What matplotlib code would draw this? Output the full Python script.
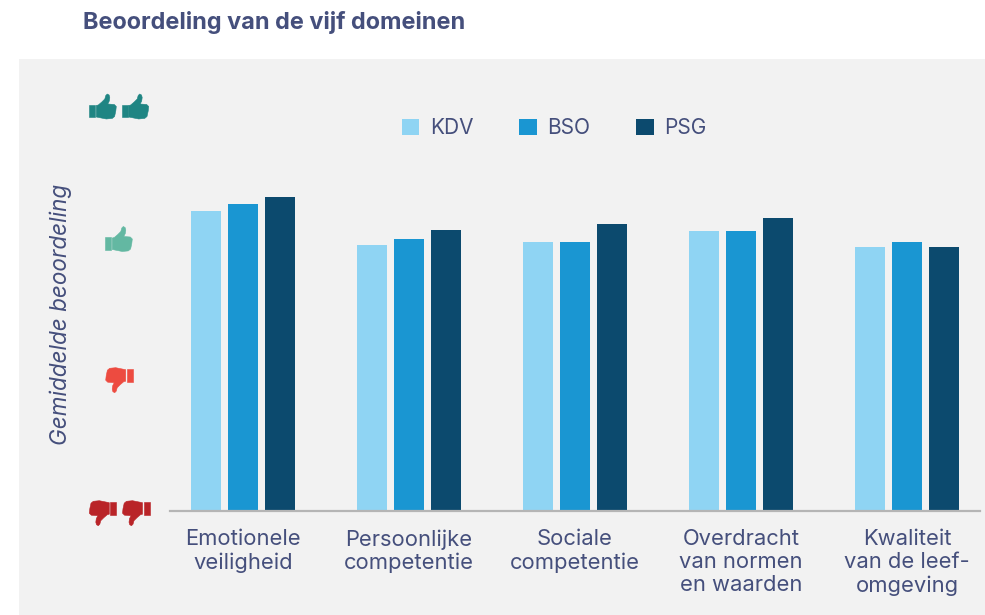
import matplotlib
matplotlib.use("Agg")
import matplotlib.pyplot as plt
from matplotlib.patches import Rectangle, PathPatch
from matplotlib.path import Path
from matplotlib.transforms import Affine2D
import numpy as np

categories = ["Emotionele\nveiligheid", "Persoonlijke\ncompetentie", "Sociale\ncompetentie",
              "Overdracht\nvan normen\nen waarden", "Kwaliteit\nvan de leef-\nomgeving"]
KDV = [3.23, 2.975, 3.00, 3.08, 2.96]
BSO = [3.28, 3.02, 3.00, 3.08, 3.00]
PSG = [3.33, 3.085, 3.13, 3.175, 2.96]
series_names = ["KDV", "BSO", "PSG"]
title = "Beoordeling van de vijf domeinen"
ylabel = "Gemiddelde beoordeling"

W, H = 985, 615
TXT = "#454f7c"
plt.rcParams["font.family"] = ["Inter", "DejaVu Sans"]
fig = plt.figure(figsize=(W/100, H/100), dpi=100, facecolor="white")

def fx(x): return x / W
def fy(y): return 1 - y / H

fig.add_artist(Rectangle((fx(19), 0), 1 - fx(19), fy(59), transform=fig.transFigure,
                         fc="#f2f2f2", ec="none", zorder=-5))

L, R, T, B = 170, 980, 59, 511
ax = fig.add_axes([fx(L), fy(B), fx(R - L), fy(T) - fy(B)], facecolor="none")
pitch = 166
ax.set_xlim((L - 243) / pitch, (R - 243) / pitch)
unit = 134.7
ax.set_ylim(1, 1 + (B - T) / unit)

x = np.arange(len(categories))
w = 30 / pitch
off = 36.7 / pitch
cols = ["#8fd4f3", "#1a96d2", "#0c4a6e"]
for i, (vals, c, n) in enumerate(zip([KDV, BSO, PSG], cols, series_names)):
    ax.bar(x + (i - 1) * off, np.array(vals) - 1, w, bottom=1, color=c, label=n)

for s in ["top", "left", "right"]:
    ax.spines[s].set_visible(False)
ax.spines["bottom"].set_color("#b5b5b5")
ax.spines["bottom"].set_linewidth(1.6)
ax.set_yticks([])
ax.set_xticks(x)
ax.set_xticklabels(categories, fontsize=15.8, color=TXT, linespacing=1.2, ha="center", va="top")
ax.tick_params(axis="x", length=0, pad=13)

leg = fig.legend(loc="upper left", bbox_to_anchor=(fx(402), fy(118)), ncol=3, frameon=False,
                 fontsize=15, handlelength=0.82, handleheight=0.82, handletextpad=0.53,
                 columnspacing=2.2, borderpad=0, borderaxespad=0, labelcolor=TXT)

fig.text(fx(83), fy(23), title, fontsize=16.9, fontweight="bold", color=TXT, va="center", ha="left")
fig.text(fx(61), fy(314.5), ylabel, fontsize=16.2, style="italic", color=TXT, rotation=90,
         va="center", ha="center")

# thumb icon outline, pixel units, origin bottom-left, 27x25
cuff = [(0, 1.6), (6, 1.6), (6, 14.4), (0, 14.4), (0, 1.6)]
hand = [(7, 2), (7, 13.5), (9, 14), (12.5, 17), (15.5, 20), (16.5, 23.5), (18, 25), (19.8, 24),
        (20.5, 21.5), (20, 18), (18.5, 15), (25, 14.5), (27, 12.5), (26.5, 8), (25.3, 2.5), (23, 0.6),
        (17, 0), (12, 1), (7, 2)]

def thumb(x0, ytop, color, down=False):
    ybot = H - (ytop + 25)
    tr = Affine2D()
    if down:
        tr = tr.rotate_deg_around(13.5, 12.5, 180)
    tr = tr.translate(x0, ybot)
    for pts in (cuff, hand):
        p = Path(pts, closed=True)
        fig.add_artist(PathPatch(p, transform=tr, fc=color, ec=color, lw=0.4, joinstyle="round", zorder=3))

for x0 in (89.3, 121.7):
    thumb(x0, 94, "#1f8583")
thumb(105.3, 226.5, "#63b8a2")
thumb(105.7, 367.7, "#ed4b40", down=True)
for x0 in (89.3, 122.5):
    thumb(x0, 500.7, "#b92428", down=True)

fig.savefig("out.png", dpi=100)
